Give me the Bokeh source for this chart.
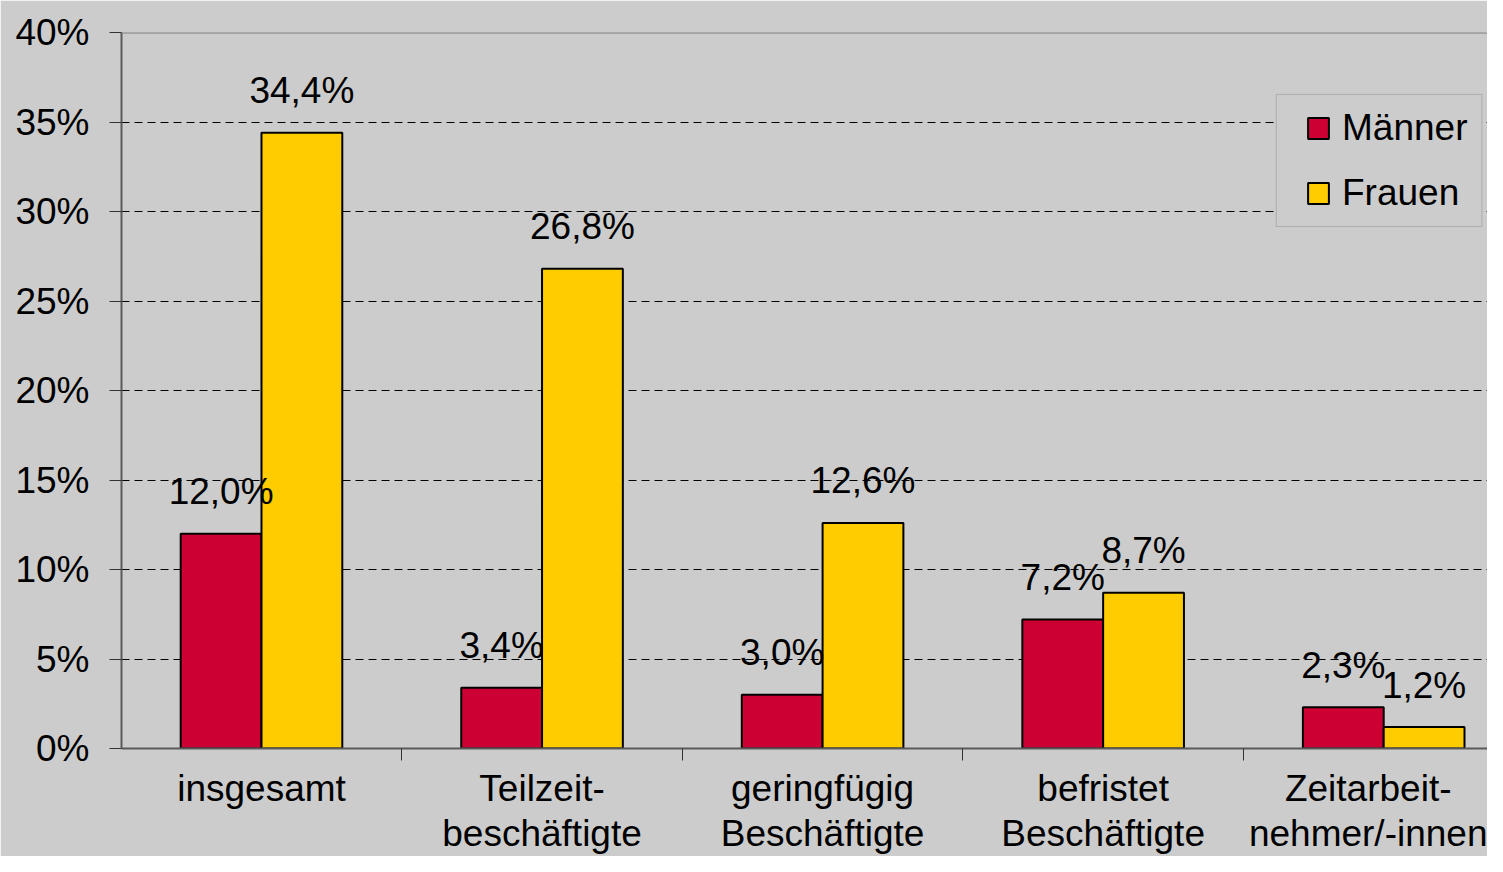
from bokeh.plotting import figure
from bokeh.models import (ColumnDataSource, Range1d, FixedTicker, Legend, LegendItem,
                          BoxAnnotation, Span)
from bokeh.embed import file_html
from bokeh.resources import INLINE
from bokeh.core.properties import value
from bokeh.transform import dodge

# ---- data ----
categories = ["insgesamt", "Teilzeit-\nbeschäftigte", "geringfügig\nBeschäftigte",
              "befristet\nBeschäftigte", "Zeitarbeit-\nnehmer/-innen"]
series_names = ["Männer", "Frauen"]
maenner = [12.0, 3.4, 3.0, 7.2, 2.3]
frauen = [34.4, 26.8, 12.6, 8.7, 1.2]
y_ticks = [0, 5, 10, 15, 20, 25, 30, 35, 40]
y_tick_labels = ["0%", "5%", "10%", "15%", "20%", "25%", "30%", "35%", "40%"]

# ---- style ----
FONT = "Liberation Sans"
FS = "37px"
BG = "#CCCCCC"
RED = "#CC0033"
YELLOW = "#FFCC00"
BAR_W = 0.288


def fmt(v):
    return f"{v:.1f}".replace(".", ",") + "%"


centers = [i + 0.5 for i in range(len(categories))]
src_m = ColumnDataSource(dict(x=centers, top=maenner, label=[fmt(v) for v in maenner]))
src_f = ColumnDataSource(dict(x=centers, top=frauen, label=[fmt(v) for v in frauen]))

p = figure(width=1487, height=856, output_backend="svg", toolbar_location=None,
           x_range=Range1d(0.001, 4.87), y_range=Range1d(y_ticks[0], y_ticks[-1]),
           min_border_left=121, min_border_top=32, min_border_right=0, min_border_bottom=0,
           background_fill_color=BG, border_fill_color=BG, outline_line_color=None)

# grid
p.xgrid.visible = False
p.ygrid.ticker = FixedTicker(ticks=y_ticks[1:-1])
p.ygrid.grid_line_color = "black"
p.ygrid.grid_line_dash = "8 5"
p.ygrid.grid_line_width = 1

# top frame line
p.add_layout(Span(location=y_ticks[-1], dimension="width", line_color="#7A7A7A", line_width=2))

# bars
r_m = p.vbar(x=dodge("x", -BAR_W / 2, range=p.x_range), top="top", bottom=0, width=BAR_W,
             source=src_m, fill_color=RED, line_color="black", line_width=2)
r_f = p.vbar(x=dodge("x", BAR_W / 2, range=p.x_range), top="top", bottom=0, width=BAR_W,
             source=src_f, fill_color=YELLOW, line_color="black", line_width=2)

# value labels
for src, off in ((src_m, -BAR_W / 2), (src_f, BAR_W / 2)):
    p.text(x=dodge("x", off, range=p.x_range), y="top", text="label", source=src,
           text_align="center", text_baseline="alphabetic", y_offset=-42,
           text_font=value(FONT), text_font_size=FS, text_color="black")

# x axis: category labels at centres, boundary ticks as minor ticks
xa = p.xaxis[0]
xa.ticker = FixedTicker(ticks=centers, minor_ticks=list(range(len(categories) + 1)))
xa.major_label_overrides = {c: lab for c, lab in zip(centers, categories)}
xa.major_tick_line_color = None
xa.major_tick_out = 0
xa.major_tick_in = 0
xa.minor_tick_out = 12
xa.minor_tick_in = 0
xa.minor_tick_line_color = "#333333"
xa.minor_tick_line_width = 1
xa.axis_line_color = "#5A5A5A"
xa.axis_line_width = 2
xa.major_label_text_font = FONT
xa.major_label_text_font_size = FS
xa.major_label_text_color = "black"
xa.major_label_text_line_height = 1.1
xa.major_label_standoff = 7

ya = p.yaxis[0]
ya.ticker = FixedTicker(ticks=y_ticks)
ya.major_label_overrides = {t: lab for t, lab in zip(y_ticks, y_tick_labels)}
ya.minor_tick_line_color = None
ya.major_tick_out = 12
ya.major_tick_in = 0
ya.major_tick_line_color = "#333333"
ya.axis_line_color = "#5A5A5A"
ya.axis_line_width = 2
ya.major_label_text_font = FONT
ya.major_label_text_font_size = FS
ya.major_label_text_color = "black"
ya.major_label_standoff = 20

# legend box
p.add_layout(BoxAnnotation(left=4.117, right=4.850, bottom=29.16, top=36.54,
                           fill_color=BG, fill_alpha=1, line_color="#6A6A6A", line_width=1))

legend = Legend(items=[LegendItem(label=series_names[0], renderers=[r_m]),
                       LegendItem(label=series_names[1], renderers=[r_f])],
                location=(1184, 533), padding=0, spacing=21, margin=0,
                label_height=44, glyph_width=26, glyph_height=26, label_standoff=11,
                border_line_alpha=0, background_fill_alpha=0,
                label_text_font=FONT, label_text_font_size=FS, label_text_color="black")
p.add_layout(legend)

open("out.html", "w").write(file_html(p, INLINE))
